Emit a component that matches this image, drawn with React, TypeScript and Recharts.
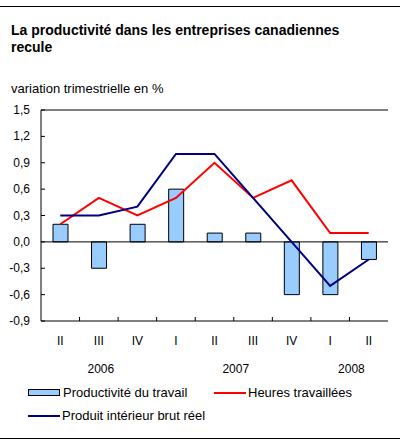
import { ComposedChart, Bar, Line, XAxis, YAxis, ReferenceLine } from 'recharts';

const quarters = ['II', 'III', 'IV', 'I', 'II', 'III', 'IV', 'I', 'II'];
const years = ['2006', '2006', '2006', '2007', '2007', '2007', '2007', '2008', '2008'];
const productivite = [0.2, -0.3, 0.2, 0.6, 0.1, 0.1, -0.6, -0.6, -0.2];
const heures = [0.2, 0.5, 0.3, 0.5, 0.9, 0.5, 0.7, 0.1, 0.1];
const pib = [0.3, 0.3, 0.4, 1.0, 1.0, 0.5, 0.0, -0.5, -0.2];
const yTicks = [-0.9, -0.6, -0.3, 0, 0.3, 0.6, 0.9, 1.2, 1.5];

const data = quarters.map((q, i) => ({
  key: `${years[i]}-${q}-${i}`,
  productivite: productivite[i],
  heures: heures[i],
  pib: pib[i],
}));

const FONT = '"Liberation Sans", Arial, sans-serif';
const W = 406;
const H = 445;
const margin = { top: 110, right: 18, left: 0, bottom: 64 };
const Y_AXIS_W = 41;
const band = (W - margin.right - margin.left - Y_AXIS_W) / quarters.length;

const fmt = (v: number) => v.toFixed(1).replace('.', ',');

function XTick(props: any) {
  const { x, y, index } = props;
  const yr = years[index];
  const first = years.indexOf(yr);
  const last = years.lastIndexOf(yr);
  return (
    <g>
      {index < quarters.length - 1 && (
        <line x1={x + band / 2} x2={x + band / 2} y1={y} y2={y - 4} stroke="#000" />
      )}
      <text x={x} y={y + 24} textAnchor="middle" fontSize={12} fontFamily={FONT} fill="#000">
        {quarters[index]}
      </text>
      {index === first && (
        <text
          x={x + ((last - first) * band) / 2 + 2}
          y={y + 52}
          textAnchor="middle"
          fontSize={12}
          fontFamily={FONT}
          fill="#000"
        >
          {yr}
        </text>
      )}
    </g>
  );
}

function YTick(props: any) {
  const { x, y, payload } = props;
  return (
    <g>
      <line x1={x} x2={x + 4} y1={y} y2={y} stroke="#000" />
      <text x={x - 11} y={y + 4} textAnchor="end" fontSize={12} fontFamily={FONT} fill="#000">
        {fmt(payload.value)}
      </text>
    </g>
  );
}

function BarSwatch() {
  return (
    <span
      style={{
        display: 'inline-block',
        width: 30,
        height: 5,
        background: '#99CCFF',
        border: '1px solid #000',
        verticalAlign: 'middle',
        marginRight: 3,
      }}
    />
  );
}

function LineSwatch({ color }: { color: string }) {
  return (
    <span
      style={{
        display: 'inline-block',
        width: 32,
        height: 2,
        background: color,
        verticalAlign: 'middle',
        marginRight: 2,
      }}
    />
  );
}

export default function App() {
  return (
    <div
      style={{
        position: 'absolute',
        left: 0,
        top: 0,
        width: W,
        height: H,
        background: '#fff',
        fontFamily: FONT,
        color: '#000',
      }}
    >
      <div style={{ position: 'absolute', left: 0, top: 6, width: 400, borderTop: '1px solid #000' }} />
      <div
        style={{
          position: 'absolute',
          left: 11,
          top: 22,
          width: 380,
          fontSize: 14,
          fontWeight: 'bold',
          lineHeight: '17px',
        }}
      >
        La productivité dans les entreprises canadiennes
        <br />
        recule
      </div>
      <div style={{ position: 'absolute', left: 11, top: 81, fontSize: 13 }}>
        variation trimestrielle en %
      </div>

      <div style={{ position: 'absolute', left: 0, top: 0 }}>
        <ComposedChart width={W} height={H} data={data} margin={margin}>
          <XAxis
            dataKey="key"
            height={60}
            tickSize={0}
            tickMargin={0}
            axisLine={{ stroke: '#000' }}
            tickLine={false}
            tick={<XTick />}
            interval={0}
          />
          <YAxis
            domain={[-0.9, 1.5]}
            ticks={yTicks}
            width={Y_AXIS_W}
            tickSize={0}
            tickMargin={0}
            axisLine={{ stroke: '#000' }}
            tickLine={false}
            tick={<YTick />}
            interval={0}
          />
          <YAxis
            yAxisId="right"
            orientation="right"
            domain={[-0.9, 1.5]}
            width={0}
            tick={false}
            tickLine={false}
            axisLine={{ stroke: '#000' }}
          />
          <ReferenceLine y={1.5} stroke="#000" />
          <Bar
            dataKey="productivite"
            fill="#99CCFF"
            stroke="#000"
            strokeWidth={1}
            barSize={15}
            isAnimationActive={false}
          />
          <ReferenceLine y={0} stroke="#000" />
          <Line
            type="linear"
            dataKey="heures"
            stroke="#FF0000"
            strokeWidth={2}
            dot={false}
            isAnimationActive={false}
          />
          <Line
            type="linear"
            dataKey="pib"
            stroke="#000080"
            strokeWidth={2}
            dot={false}
            isAnimationActive={false}
          />
        </ComposedChart>
      </div>

      <div style={{ position: 'absolute', left: 28, top: 384, fontSize: 13, whiteSpace: 'nowrap' }}>
        <BarSwatch />
        <span style={{ verticalAlign: 'middle' }}>Productivité du travail</span>
      </div>
      <div style={{ position: 'absolute', left: 214, top: 384, fontSize: 13, whiteSpace: 'nowrap' }}>
        <LineSwatch color="#FF0000" />
        <span style={{ verticalAlign: 'middle' }}>Heures travaillées</span>
      </div>
      <div style={{ position: 'absolute', left: 28, top: 407, fontSize: 13, whiteSpace: 'nowrap' }}>
        <LineSwatch color="#000080" />
        <span style={{ verticalAlign: 'middle' }}>Produit intérieur brut réel</span>
      </div>
      <div style={{ position: 'absolute', left: 0, top: 438, width: 400, borderTop: '1px solid #000' }} />
    </div>
  );
}
